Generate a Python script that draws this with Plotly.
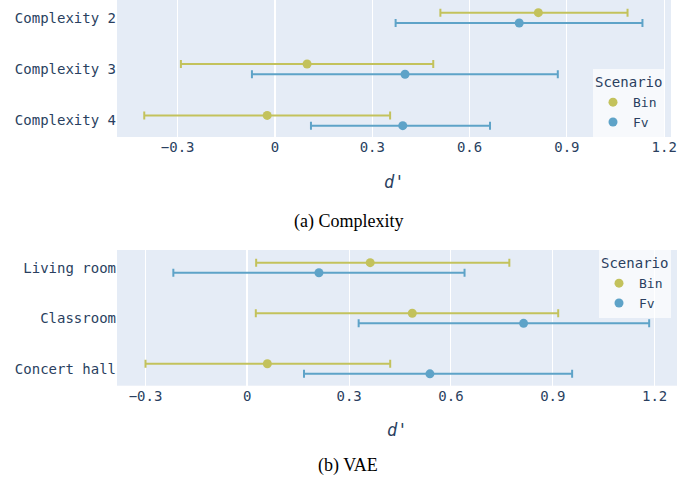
import plotly.graph_objects as go

# ---- data ----
complexity_cats = ["Complexity 2", "Complexity 3", "Complexity 4"]
comp_bin_mean = [0.812, 0.099, -0.024]
comp_bin_low = [0.510, -0.290, -0.403]
comp_bin_high = [1.087, 0.488, 0.355]
comp_fv_mean = [0.753, 0.401, 0.394]
comp_fv_low = [0.372, -0.071, 0.111]
comp_fv_high = [1.133, 0.872, 0.663]

vae_cats = ["Living room", "Classroom", "Concert hall"]
vae_bin_mean = [0.362, 0.486, 0.059]
vae_bin_low = [0.026, 0.025, -0.300]
vae_bin_high = [0.772, 0.916, 0.421]
vae_fv_mean = [0.211, 0.814, 0.538]
vae_fv_low = [-0.218, 0.328, 0.167]
vae_fv_high = [0.640, 1.184, 0.957]

x_ticks = [-0.3, 0, 0.3, 0.6, 0.9, 1.2]
x_ticklabels = ["\u22120.3", "0", "0.3", "0.6", "0.9", "1.2"]

BIN_COLOR = "#c3c25c"
FV_COLOR = "#5ea3c8"
MONO = "DejaVu Sans Mono"
TXT = "#2a3f5f"

fig = go.Figure()


def add(name, cats, mean, low, high, color, xa, ya, legend, show):
    plus = [h - m for h, m in zip(high, mean)]
    minus = [m - l for m, l in zip(mean, low)]
    fig.add_trace(go.Scatter(
        x=mean, y=cats, mode="markers", name=name, orientation="h",
        marker=dict(color=color, size=9),
        error_x=dict(type="data", array=plus, arrayminus=minus,
                     color=color, thickness=2, width=4),
        xaxis=xa, yaxis=ya, legend=legend, showlegend=show,
    ))


add("Bin", complexity_cats, comp_bin_mean, comp_bin_low, comp_bin_high, BIN_COLOR, "x", "y", "legend", True)
add("Fv", complexity_cats, comp_fv_mean, comp_fv_low, comp_fv_high, FV_COLOR, "x", "y", "legend", True)
add("Bin", vae_cats, vae_bin_mean, vae_bin_low, vae_bin_high, BIN_COLOR, "x2", "y2", "legend2", True)
add("Fv", vae_cats, vae_fv_mean, vae_fv_low, vae_fv_high, FV_COLOR, "x2", "y2", "legend2", True)

W, H = 697, 486
L, R = 117, 20
pw = W - L - R

axis_common = dict(
    tickvals=x_ticks, ticktext=x_ticklabels,
    tickfont=dict(family=MONO, size=14, color=TXT),
    showgrid=True, gridcolor="white", gridwidth=1,
    zeroline=True, zerolinecolor="white", zerolinewidth=2,
)


def px_x(p):
    return (p - L) / pw


def px_y(p):
    return 1 - p / H


fig.update_layout(
    width=W, height=H,
    template="plotly",
    margin=dict(l=L, r=R, t=0, b=0),
    scattermode="group", scattergap=0.6,
    paper_bgcolor="white",
    plot_bgcolor="#E5ECF6",
    xaxis=dict(domain=[0, px_x(671)], range=[-0.487, 1.221], anchor="y", **axis_common),
    yaxis=dict(domain=[px_y(137), 1], type="category", categoryarray=complexity_cats,
               range=[2.321, -0.347], showgrid=False, anchor="x",
               tickfont=dict(family=MONO, size=14, color=TXT)),
    xaxis2=dict(domain=[0, 1], range=[-0.384, 1.266], anchor="y2", **axis_common),
    yaxis2=dict(domain=[px_y(385.7), px_y(250)], type="category", categoryarray=vae_cats,
                range=[2.334, -0.350], showgrid=False, anchor="x2",
                tickfont=dict(family=MONO, size=14, color=TXT)),
    legend=dict(title=dict(text="Scenario", font=dict(family=MONO, size=14, color=TXT)),
                font=dict(family=MONO, size=13, color=TXT),
                bgcolor="rgba(255,255,255,0.7)",
                x=px_x(665), xanchor="right", y=px_y(137), yanchor="bottom"),
    legend2=dict(title=dict(text="Scenario", font=dict(family=MONO, size=14, color=TXT)),
                 font=dict(family=MONO, size=13, color=TXT),
                 bgcolor="rgba(255,255,255,0.7)",
                 x=px_x(671), xanchor="right", y=px_y(250), yanchor="top"),
    annotations=[
        dict(text="<i>d'</i>", x=px_x((117 + 671) / 2), xref="paper", xanchor="center",
             y=px_y(182), yref="paper", yanchor="middle", showarrow=False,
             font=dict(family=MONO, size=17, color=TXT)),
        dict(text="<i>d'</i>", x=px_x((117 + 677) / 2), xref="paper", xanchor="center",
             y=px_y(430), yref="paper", yanchor="middle", showarrow=False,
             font=dict(family=MONO, size=17, color=TXT)),
        dict(text="(a) Complexity", x=px_x(348), xref="paper", xanchor="center",
             y=px_y(221), yref="paper", yanchor="middle", showarrow=False,
             font=dict(family="Liberation Serif", size=18, color="black")),
        dict(text="(b) VAE", x=px_x(348), xref="paper", xanchor="center",
             y=px_y(465), yref="paper", yanchor="middle", showarrow=False,
             font=dict(family="Liberation Serif", size=18, color="black")),
    ],
)

fig.write_html("out.html", config={"displayModeBar": False},
               post_script="document.body.style.margin='0';")
